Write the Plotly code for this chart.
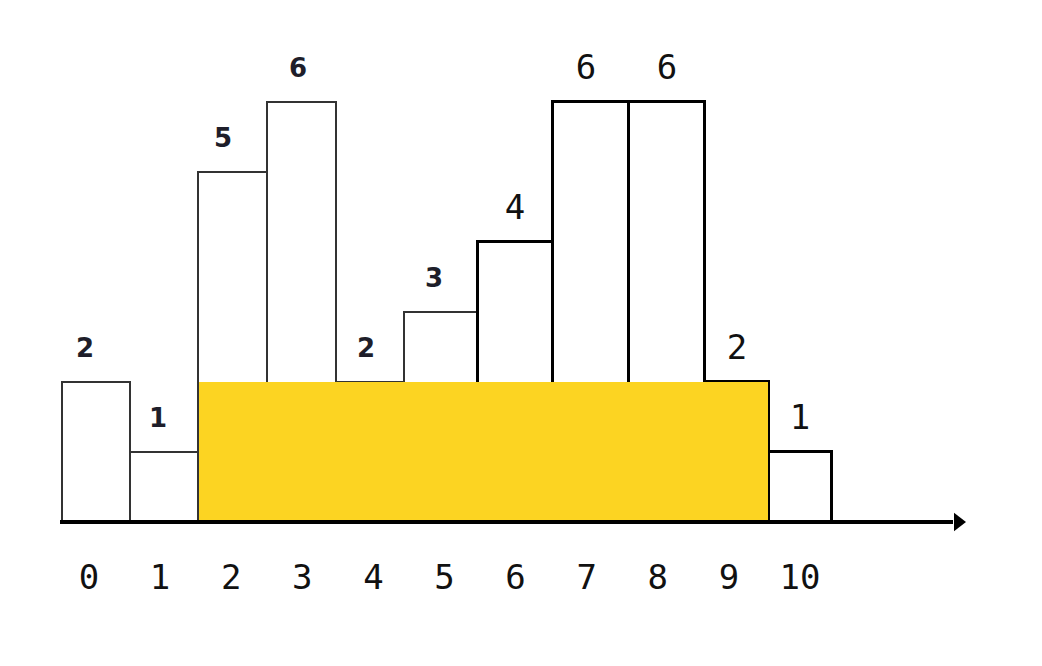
import plotly.graph_objects as go

# ---- data ----
indices = [0, 1, 2, 3, 4, 5, 6, 7, 8, 9, 10]
heights = [2, 1, 5, 6, 2, 3, 4, 6, 6, 2, 1]
tick_labels = [str(i) for i in indices]

# ---- layout / style (pixel-based data space, window pixels) ----
W, H = 1042, 666
PAGE_OFF = 8  # default body margin of the html page
PX_PER_UNIT = 70.0
BASE_PX = 522.0
bar_edges = [62, 130, 198, 267, 336, 404, 478, 553, 629, 705, 769, 832]
label_x = [85, 158, 223, 298, 366, 434, 515, 586, 667, 737, 800]
tick_x0, tick_step, tick_y_px = 89, 71.1, 580
YELLOW = "#FCD422"

centers = [(bar_edges[i] + bar_edges[i + 1]) / 2 for i in range(len(heights))]
widths = [bar_edges[i + 1] - bar_edges[i] for i in range(len(heights))]
thin = 6  # first bars drawn with thinner, grey outlines
line_colors = ["#333333" if i < thin else "#000000" for i in range(len(heights))]
line_widths = [2 if i < thin else 3 for i in range(len(heights))]

# largest rectangle in histogram
best = (0, 0, 0, 0)
for i in range(len(heights)):
    h = heights[i]
    for j in range(i, len(heights)):
        h = min(h, heights[j])
        area = h * (j - i + 1)
        if area > best[0]:
            best = (area, i, j, h)
_, bi, bj, bh = best
yx0, yx1 = bar_edges[bi] + 1, bar_edges[bj + 1] - 1

fig = go.Figure()

fig.add_trace(go.Bar(
    x=centers, y=heights, width=widths,
    marker=dict(color="white", line=dict(color=line_colors, width=line_widths)),
    hoverinfo="skip", showlegend=False,
))

fig.add_trace(go.Bar(
    x=[(yx0 + yx1) / 2], y=[bh], width=[yx1 - yx0],
    marker=dict(color=YELLOW, line=dict(width=0)),
    hoverinfo="skip", showlegend=False,
))

# axis line with arrow
axis_end_px = 953
fig.add_trace(go.Scatter(
    x=[bar_edges[0] - 2, axis_end_px], y=[0, 0], mode="lines",
    line=dict(color="black", width=4), hoverinfo="skip", showlegend=False,
))
fig.add_trace(go.Scatter(
    x=[958], y=[0], mode="markers",
    marker=dict(symbol="triangle-right", size=16, color="black"),
    hoverinfo="skip", showlegend=False,
))

# value labels
off = 0.45
fig.add_trace(go.Scatter(
    x=label_x[:thin], y=[h + off for h in heights[:thin]], mode="text",
    text=[str(h) for h in heights[:thin]], textposition="middle center",
    textfont=dict(family="DejaVu Sans", size=26, color="#1e1e2a", weight="bold"),
    hoverinfo="skip", showlegend=False,
))
fig.add_trace(go.Scatter(
    x=label_x[thin:], y=[h + off for h in heights[thin:]], mode="text",
    text=[str(h) for h in heights[thin:]], textposition="middle center",
    textfont=dict(family="DejaVu Sans Mono", size=34, color="#111111"),
    hoverinfo="skip", showlegend=False,
))

# tick labels
tick_y = (BASE_PX - tick_y_px) / PX_PER_UNIT
fig.add_trace(go.Scatter(
    x=[tick_x0 + tick_step * i for i in indices], y=[tick_y] * len(indices),
    mode="text", text=tick_labels, textposition="middle center",
    textfont=dict(family="DejaVu Sans Mono", size=34, color="#111111"),
    hoverinfo="skip", showlegend=False,
))

fig.update_layout(
    width=W, height=H, margin=dict(l=0, r=0, t=0, b=0),
    paper_bgcolor="white", plot_bgcolor="white",
    barmode="overlay", bargap=0,
    xaxis=dict(range=[PAGE_OFF, W + PAGE_OFF], visible=False, fixedrange=True),
    yaxis=dict(range=[(BASE_PX - (H + PAGE_OFF)) / PX_PER_UNIT,
                      (BASE_PX - PAGE_OFF) / PX_PER_UNIT],
               visible=False, fixedrange=True),
)

fig.write_html("out.html")
